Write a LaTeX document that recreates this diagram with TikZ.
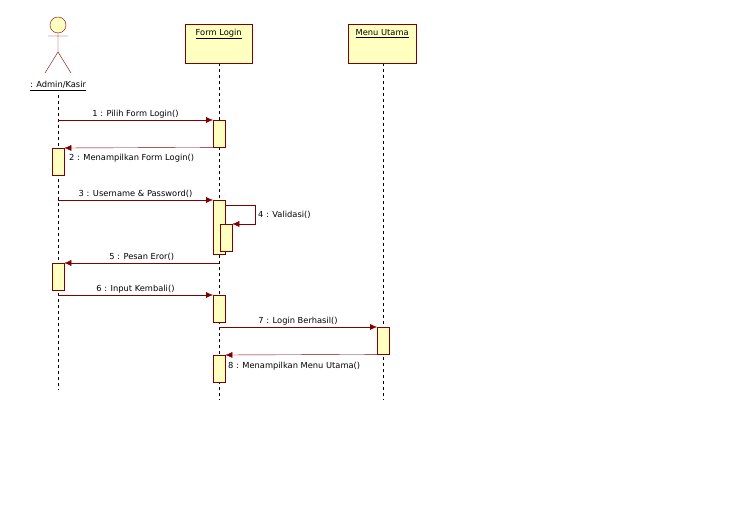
\documentclass[tikz,border=0pt]{standalone}
\usepackage{fontspec}
\setmainfont{DejaVu Sans}
\usetikzlibrary{arrows.meta}
\definecolor{umlline}{RGB}{128,0,0}
\definecolor{umlfill}{RGB}{255,255,192}
\tikzset{
  obj/.style={draw=umlline,fill=umlfill,minimum width=67pt,minimum height=39pt,anchor=north west,inner sep=0pt},
  act/.style={draw=umlline,fill=umlfill,minimum width=12pt,minimum height=27pt,anchor=north west,inner sep=0pt},
  life/.style={dashed,thin},
  msg/.style={draw=umlline,-{Latex[length=7pt,width=6pt]}},
  lbl/.style={font=\fontsize{8.3}{9}\selectfont,inner sep=1pt}
}
\begin{document}
\begin{tikzpicture}[x=1pt,y=-1pt]
\useasboundingbox (0,0) rectangle (754,526);
% lifelines
\draw[life] (58,95) -- (58,390);
\draw[life] (219,63) -- (219,400);
\draw[life] (383,63) -- (383,400);
% actor
\draw[umlline,fill=umlfill] (58,25) circle (8);
\draw[umlline] (58,33) -- (58,52) (48,36) -- (68,36) (45,73) -- (58,52) -- (71,73);
\node[lbl] (admin) at (58,86) {\underline{: Admin/Kasir}};
% objects
\node[obj] (form) at (185,24) {};
\node[lbl,anchor=north] at (form.north) [yshift=-4pt] {\underline{Form Login}};
\node[obj,minimum width=68pt] (menu) at (348,24) {};
\node[lbl,anchor=north] at (menu.north) [yshift=-4pt] {\underline{Menu Utama}};
% activations
\node[act] (f1) at (213,120) {};
\node[act] (a1) at (52,148) {};
\node[act,minimum height=54pt] (f2) at (213,200) {};
\node[act] (f3) at (220,224) {};
\node[act] (a2) at (52,263) {};
\node[act] (f4) at (213,295) {};
\node[act] (m1) at (377,327) {};
\node[act] (f5) at (213,355) {};
% messages
\draw[msg] (58,120) -- node[lbl,above=1pt] {1 : Pilih Form Login()} (f1.north west);
\draw[msg] (f1.south west) -- (a1.north east);
\node[lbl,anchor=west] at (68,158) {2 : Menampilkan Form Login()};
\draw[msg] (58,200) -- node[lbl,above=1pt] {3 : Username \& Password()} (f2.north west);
\draw[msg] (225,205) -- (255,205) -- (255,224) -- (f3.north east);
\node[lbl,anchor=west] at (257,215) {4 : Validasi()};
\draw[msg] (219,263) -- node[lbl,above=1pt] {5 : Pesan Eror()} (a2.north east);
\draw[msg] (58,295) -- node[lbl,above=1pt] {6 : Input Kembali()} (f4.north west);
\draw[msg] (219,327) -- node[lbl,above=1pt] {7 : Login Berhasil()} (m1.north west);
\draw[msg] (m1.south west) -- (f5.north east);
\node[lbl,anchor=west] at (227,366) {8 : Menampilkan Menu Utama()};
\end{tikzpicture}
\end{document}
